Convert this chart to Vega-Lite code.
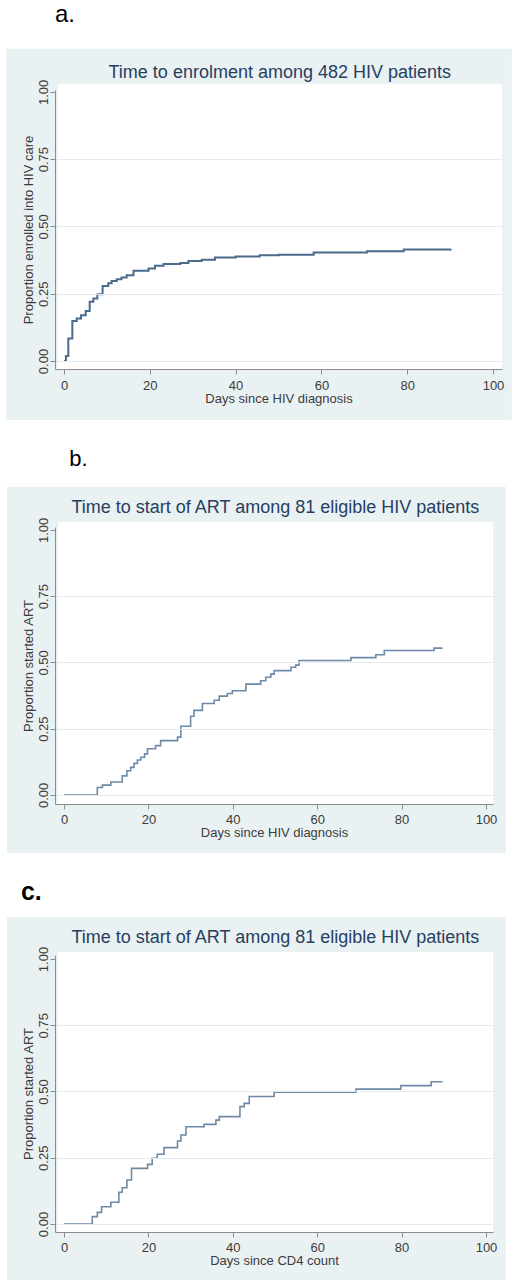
{
  "$schema": "https://vega.github.io/schema/vega-lite/v6.json",
  "background": "white",
  "padding": {"left": 6, "top": 2, "right": 0, "bottom": 0},
  "config": {"font": "Liberation Sans", "view": {"stroke": null}},
  "datasets": {
    "a": [
      {"day": 0, "p": 0}, {"day": 0.45, "p": 0.019}, {"day": 1.0, "p": 0.084}, {"day": 1.94, "p": 0.149},
      {"day": 2.96, "p": 0.158}, {"day": 3.97, "p": 0.17}, {"day": 5.05, "p": 0.186}, {"day": 5.99, "p": 0.22},
      {"day": 6.84, "p": 0.232}, {"day": 7.77, "p": 0.248}, {"day": 9.0, "p": 0.279}, {"day": 10.3, "p": 0.289},
      {"day": 11.1, "p": 0.297}, {"day": 12.3, "p": 0.304}, {"day": 13.4, "p": 0.31}, {"day": 14.6, "p": 0.319},
      {"day": 16.2, "p": 0.335}, {"day": 19.7, "p": 0.344}, {"day": 21.2, "p": 0.354}, {"day": 23.2, "p": 0.36},
      {"day": 27.1, "p": 0.364}, {"day": 29.0, "p": 0.372}, {"day": 32.1, "p": 0.376}, {"day": 35.2, "p": 0.385},
      {"day": 40.0, "p": 0.388}, {"day": 45.6, "p": 0.393}, {"day": 50.0, "p": 0.395}, {"day": 58.2, "p": 0.403},
      {"day": 70.6, "p": 0.408}, {"day": 79.2, "p": 0.414}, {"day": 90.2, "p": 0.415}
    ],
    "b": [
      {"day": 0, "p": 0}, {"day": 7.9, "p": 0.028}, {"day": 9.1, "p": 0.037}, {"day": 11.1, "p": 0.049},
      {"day": 13.8, "p": 0.072}, {"day": 14.9, "p": 0.091}, {"day": 15.8, "p": 0.104}, {"day": 16.6, "p": 0.119},
      {"day": 17.4, "p": 0.132}, {"day": 18.2, "p": 0.142}, {"day": 19.1, "p": 0.155}, {"day": 19.8, "p": 0.174},
      {"day": 21.7, "p": 0.186}, {"day": 22.9, "p": 0.205}, {"day": 26.9, "p": 0.218}, {"day": 27.7, "p": 0.259},
      {"day": 30.0, "p": 0.297}, {"day": 30.8, "p": 0.319}, {"day": 32.8, "p": 0.345}, {"day": 35.6, "p": 0.357},
      {"day": 36.8, "p": 0.373}, {"day": 38.7, "p": 0.383}, {"day": 39.9, "p": 0.393}, {"day": 43.1, "p": 0.418},
      {"day": 46.6, "p": 0.431}, {"day": 47.8, "p": 0.444}, {"day": 49.0, "p": 0.456}, {"day": 49.8, "p": 0.469},
      {"day": 53.8, "p": 0.482}, {"day": 54.9, "p": 0.49}, {"day": 55.7, "p": 0.507}, {"day": 68.0, "p": 0.518},
      {"day": 73.9, "p": 0.529}, {"day": 75.9, "p": 0.545}, {"day": 87.7, "p": 0.554}, {"day": 89.7, "p": 0.554}
    ],
    "c": [
      {"day": 0, "p": 0}, {"day": 6.7, "p": 0.028}, {"day": 7.9, "p": 0.044}, {"day": 8.9, "p": 0.065},
      {"day": 11.1, "p": 0.082}, {"day": 13.0, "p": 0.12}, {"day": 13.8, "p": 0.137}, {"day": 14.9, "p": 0.166},
      {"day": 16.0, "p": 0.21}, {"day": 19.8, "p": 0.225}, {"day": 20.9, "p": 0.248}, {"day": 22.1, "p": 0.263},
      {"day": 23.7, "p": 0.288}, {"day": 26.9, "p": 0.313}, {"day": 27.7, "p": 0.336}, {"day": 28.9, "p": 0.367},
      {"day": 33.2, "p": 0.376}, {"day": 36.0, "p": 0.392}, {"day": 36.8, "p": 0.405}, {"day": 41.7, "p": 0.443},
      {"day": 42.7, "p": 0.455}, {"day": 43.9, "p": 0.481}, {"day": 49.8, "p": 0.497}, {"day": 69.2, "p": 0.509},
      {"day": 79.8, "p": 0.522}, {"day": 87.0, "p": 0.537}, {"day": 89.7, "p": 0.537}
    ]
  },
  "concat": [
    {
      "width": 447, "height": 279,
      "data": {"name": "a"},
      "layer": [
        {"transform": [{"aggregate": [{"op": "count", "as": "n"}]}],
         "mark": {"type": "rect", "fill": "#eaf1f3", "clip": false},
         "encoding": {"x": {"datum": -13.5, "type": "quantitative"}, "x2": {"datum": 104.4}, "y": {"datum": -0.219, "type": "quantitative"}, "y2": {"datum": 1.16}}},
        {"transform": [{"aggregate": [{"op": "count", "as": "n"}]}],
         "mark": {"type": "rect", "fill": "#ffffff", "clip": false},
         "encoding": {"x": {"datum": -1.4, "type": "quantitative"}, "x2": {"datum": 102.1}, "y": {"datum": -0.03, "type": "quantitative"}, "y2": {"datum": 1.03}}},
        {"transform": [{"aggregate": [{"op": "count", "as": "n"}]}],
         "mark": {"type": "text", "text": "a.", "align": "left", "baseline": "alphabetic", "fontSize": 24, "color": "#000000"},
         "encoding": {"x": {"datum": -2.1, "type": "quantitative"}, "y": {"datum": 1.26, "type": "quantitative"}}},
        {"transform": [{"aggregate": [{"op": "count", "as": "n"}]}],
         "mark": {"type": "text", "text": "Time to enrolment among 482 HIV patients", "align": "center", "baseline": "alphabetic", "fontSize": 18, "color": "#263f61"},
         "encoding": {"x": {"datum": 50.3, "type": "quantitative"}, "y": {"datum": 1.051, "type": "quantitative"}}},
        {"mark": {"type": "line", "interpolate": "step-after", "color": "#4a6b8a", "strokeWidth": 2},
         "encoding": {
           "x": {"field": "day", "type": "quantitative", "scale": {"domain": [-2.1, 102.1], "nice": false, "zero": false},
                 "axis": {"title": "Days since HIV diagnosis", "values": [0, 20, 40, 60, 80, 100], "grid": false, "tickSize": 5, "labelPadding": 5, "labelFontSize": 13, "titleFontSize": 13, "titleFontWeight": "normal", "titlePadding": 0, "labelColor": "#3c3c3c", "titleColor": "#3c3c3c", "domainColor": "#8c8c8c", "tickColor": "#8c8c8c", "zindex": 1, "labelFlush": false}},
           "y": {"field": "p", "type": "quantitative", "scale": {"domain": [-0.0297, 1.007], "nice": false, "zero": false},
                 "axis": {"title": "Proportion enrolled into HIV care", "values": [0, 0.25, 0.5, 0.75, 1], "format": ".2f", "labelAngle": 270, "labelAlign": "center", "labelBaseline": "alphabetic", "labelPadding": 2.4, "tickSize": 5, "labelFontSize": 13, "titleFontSize": 13, "titleFontWeight": "normal", "titleBaseline": "alphabetic", "titlePadding": 5, "labelColor": "#3c3c3c", "titleColor": "#3c3c3c", "domainColor": "#8c8c8c", "tickColor": "#8c8c8c", "grid": true, "gridColor": "#e4ebee", "gridOpacity": {"condition": {"test": "datum.value === 1", "value": 0}, "value": 1}, "zindex": 1, "labelFlush": false, "labelOverlap": false}}
         }}
      ]
    },
    {
      "concat": [
        {
          "width": 438, "height": 277,
          "data": {"name": "b"},
          "layer": [
            {"transform": [{"aggregate": [{"op": "count", "as": "n"}]}],
             "mark": {"type": "rect", "fill": "#eaf1f3", "clip": false},
             "encoding": {"x": {"datum": -13.5, "type": "quantitative"}, "x2": {"datum": 104.7}, "y": {"datum": -0.22, "type": "quantitative"}, "y2": {"datum": 1.163}}},
            {"transform": [{"aggregate": [{"op": "count", "as": "n"}]}],
             "mark": {"type": "rect", "fill": "#ffffff", "clip": false},
             "encoding": {"x": {"datum": -1.42, "type": "quantitative"}, "x2": {"datum": 101.66}, "y": {"datum": -0.034, "type": "quantitative"}, "y2": {"datum": 1.03}}},
            {"transform": [{"aggregate": [{"op": "count", "as": "n"}]}],
             "mark": {"type": "text", "text": "b.", "align": "left", "baseline": "alphabetic", "fontSize": 22, "color": "#000000"},
             "encoding": {"x": {"datum": 1.26, "type": "quantitative"}, "y": {"datum": 1.24, "type": "quantitative"}}},
            {"transform": [{"aggregate": [{"op": "count", "as": "n"}]}],
             "mark": {"type": "text", "text": "Time to start of ART among 81 eligible HIV patients", "align": "center", "baseline": "alphabetic", "fontSize": 18, "color": "#263f61"},
             "encoding": {"x": {"datum": 50.1, "type": "quantitative"}, "y": {"datum": 1.064, "type": "quantitative"}}},
            {"mark": {"type": "line", "interpolate": "step-after", "color": "#6e89a5", "strokeWidth": 1.6},
             "encoding": {
               "x": {"field": "day", "type": "quantitative", "scale": {"domain": [-2.13, 101.66], "nice": false, "zero": false},
                     "axis": {"title": "Days since HIV diagnosis", "values": [0, 20, 40, 60, 80, 100], "grid": false, "tickSize": 5, "labelPadding": 4.5, "labelFontSize": 13, "titleFontSize": 13, "titleFontWeight": "normal", "titlePadding": 0, "labelColor": "#3c3c3c", "titleColor": "#3c3c3c", "domainColor": "#8c8c8c", "tickColor": "#8c8c8c", "zindex": 1, "labelFlush": false}},
               "y": {"field": "p", "type": "quantitative", "scale": {"domain": [-0.0342, 1.011], "nice": false, "zero": false},
                     "axis": {"title": "Proportion started ART", "values": [0, 0.25, 0.5, 0.75, 1], "format": ".2f", "labelAngle": 270, "labelAlign": "center", "labelBaseline": "alphabetic", "labelPadding": 2.4, "tickSize": 5, "labelFontSize": 13, "titleFontSize": 13, "titleFontWeight": "normal", "titleBaseline": "alphabetic", "titlePadding": 5, "labelColor": "#3c3c3c", "titleColor": "#3c3c3c", "domainColor": "#8c8c8c", "tickColor": "#8c8c8c", "grid": true, "gridColor": "#e4ebee", "gridOpacity": {"condition": {"test": "datum.value === 1", "value": 0}, "value": 1}, "zindex": 1, "labelFlush": false, "labelOverlap": false}}
             }}
          ]
        },
        {
          "width": 438, "height": 277,
          "data": {"name": "c"},
          "layer": [
            {"transform": [{"aggregate": [{"op": "count", "as": "n"}]}],
             "mark": {"type": "rect", "fill": "#eaf1f3", "clip": false},
             "encoding": {"x": {"datum": -13.5, "type": "quantitative"}, "x2": {"datum": 104.7}, "y": {"datum": -0.211, "type": "quantitative"}, "y2": {"datum": 1.158}}},
            {"transform": [{"aggregate": [{"op": "count", "as": "n"}]}],
             "mark": {"type": "rect", "fill": "#ffffff", "clip": false},
             "encoding": {"x": {"datum": -1.42, "type": "quantitative"}, "x2": {"datum": 101.66}, "y": {"datum": -0.03, "type": "quantitative"}, "y2": {"datum": 1.026}}},
            {"transform": [{"aggregate": [{"op": "count", "as": "n"}]}],
             "mark": {"type": "text", "text": "c.", "align": "left", "baseline": "alphabetic", "fontSize": 25, "fontWeight": "bold", "color": "#000000"},
             "encoding": {"x": {"datum": -10.2, "type": "quantitative"}, "y": {"datum": 1.223, "type": "quantitative"}}},
            {"transform": [{"aggregate": [{"op": "count", "as": "n"}]}],
             "mark": {"type": "text", "text": "Time to start of ART among 81 eligible HIV patients", "align": "center", "baseline": "alphabetic", "fontSize": 18, "color": "#263f61"},
             "encoding": {"x": {"datum": 50.1, "type": "quantitative"}, "y": {"datum": 1.06, "type": "quantitative"}}},
            {"mark": {"type": "line", "interpolate": "step-after", "color": "#6e89a5", "strokeWidth": 1.6},
             "encoding": {
               "x": {"field": "day", "type": "quantitative", "scale": {"domain": [-2.13, 101.66], "nice": false, "zero": false},
                     "axis": {"title": "Days since CD4 count", "values": [0, 20, 40, 60, 80, 100], "grid": false, "tickSize": 5, "labelPadding": 4.5, "labelFontSize": 13, "titleFontSize": 13, "titleFontWeight": "normal", "titlePadding": 0, "labelColor": "#3c3c3c", "titleColor": "#3c3c3c", "domainColor": "#8c8c8c", "tickColor": "#8c8c8c", "zindex": 1, "labelFlush": false}},
               "y": {"field": "p", "type": "quantitative", "scale": {"domain": [-0.0302, 1.015], "nice": false, "zero": false},
                     "axis": {"title": "Proportion started ART", "values": [0, 0.25, 0.5, 0.75, 1], "format": ".2f", "labelAngle": 270, "labelAlign": "center", "labelBaseline": "alphabetic", "labelPadding": 2.4, "tickSize": 5, "labelFontSize": 13, "titleFontSize": 13, "titleFontWeight": "normal", "titleBaseline": "alphabetic", "titlePadding": 5, "labelColor": "#3c3c3c", "titleColor": "#3c3c3c", "domainColor": "#8c8c8c", "tickColor": "#8c8c8c", "grid": true, "gridColor": "#e4ebee", "gridOpacity": {"condition": {"test": "datum.value === 1", "value": 0}, "value": 1}, "zindex": 1, "labelFlush": false, "labelOverlap": false}}
             }}
          ]
        }
      ],
      "columns": 1, "align": "none", "spacing": 25
    }
  ],
  "columns": 1, "align": "none", "spacing": 28
}
